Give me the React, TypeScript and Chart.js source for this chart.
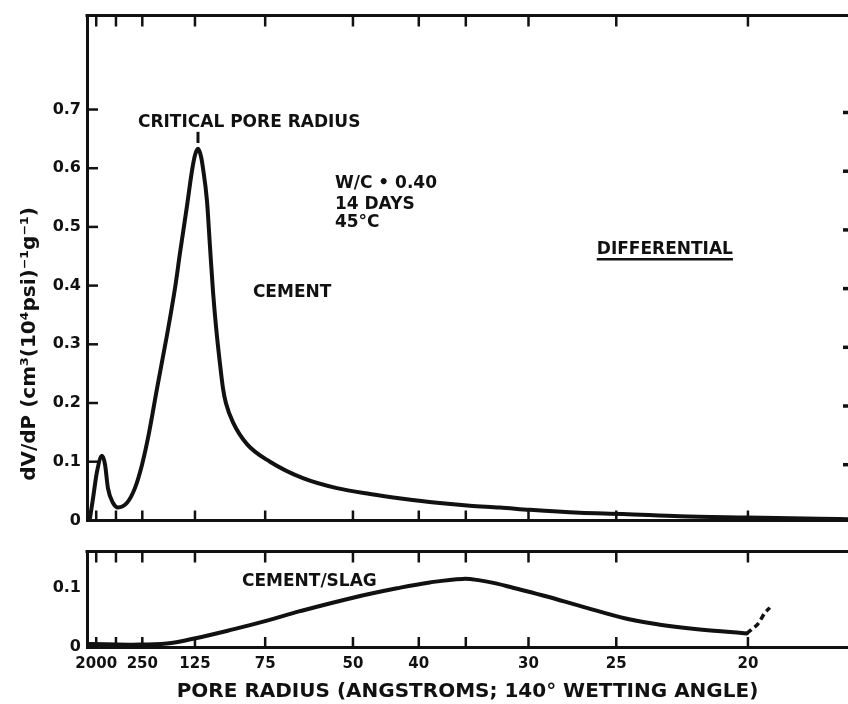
import React, { useEffect, useRef } from "react";
import { Chart, registerables } from "chart.js";

Chart.register(...registerables);

const INK = "#111111";
const FONT = "'DejaVu Sans', 'Liberation Sans', sans-serif";

// Pore radius tick marks (Å). The x axis is linear in 1000 / r (proportional to intrusion pressure).
const tickRadii = [2000, 500, 250, 125, 75, 50, 40, 35, 30, 25, 20];
const tickLabels = ["2000", "", "250", "125", "75", "50", "40", "", "30", "25", "20"];
const xMin = -0.2;
const xMax = 57.6;

// Upper panel: cement (x = 1000 / r, y = dV/dP)
const cementX = [0, 0.26, 0.56, 0.94, 1.17, 1.39, 1.77, 2.15, 2.84, 3.44, 3.98, 4.43, 5.12, 5.87, 6.48, 6.86, 7.39, 7.77, 8.0, 8.23, 8.46, 8.61, 8.91, 9.14, 9.37, 9.6, 9.9, 10.13, 10.35, 10.89, 11.95, 13.7, 16.2, 18.78, 21.29, 23.79, 26.38, 28.88, 31.16, 33.44, 37.23, 40.5, 44.83, 49.91, 55.46, 57.6];
const cementY = [0, 0.038, 0.083, 0.11, 0.095, 0.055, 0.03, 0.022, 0.03, 0.055, 0.095, 0.14, 0.225, 0.315, 0.395, 0.455, 0.535, 0.595, 0.622, 0.633, 0.62, 0.6, 0.545, 0.467, 0.39, 0.33, 0.267, 0.225, 0.2, 0.167, 0.13, 0.1, 0.072, 0.055, 0.045, 0.037, 0.03, 0.025, 0.022, 0.018, 0.013, 0.011, 0.007, 0.005, 0.003, 0.002];

// Lower panel: cement / slag (solid part, then dashed extension)
const slagX = [0, 3.29, 5.87, 7.85, 10.89, 13.47, 15.97, 20.0, 23.34, 25.84, 28.35, 29.64, 30.93, 32.15, 34.73, 37.23, 40.8, 43.31, 45.81, 48.4, 49.91];
const slagY = [0.005, 0.004, 0.006, 0.014, 0.03, 0.045, 0.061, 0.084, 0.1, 0.11, 0.116, 0.1135, 0.108, 0.101, 0.086, 0.07, 0.048, 0.038, 0.031, 0.026, 0.023];
const slagDashX = [49.91, 50.29, 50.75, 51.28, 51.66];
const slagDashY = [0.023, 0.03, 0.039, 0.058, 0.067];

const topYTicks = [0, 0.1, 0.2, 0.3, 0.4, 0.5, 0.6, 0.7];
const topYLabels = ["0", "0.1", "0.2", "0.3", "0.4", "0.5", "0.6", "0.7"];
const topYMax = 0.86;
const bottomYTicks = [0, 0.1];
const bottomYLabels = ["0", "0.1"];
const bottomYMax = 0.1625;

const yTitle = "dV/dP (cm³(10⁴psi)⁻¹g⁻¹)";
const xTitle = "PORE RADIUS (ANGSTROMS; 140° WETTING ANGLE)";

const topNotes = [
  { text: "CRITICAL PORE RADIUS", x: 3.67, y: 0.677, underline: false },
  { text: "W/C • 0.40", x: 18.63, y: 0.573, underline: false },
  { text: "14 DAYS", x: 18.63, y: 0.538, underline: false },
  { text: "45°C", x: 18.63, y: 0.507, underline: false },
  { text: "CEMENT", x: 12.4, y: 0.388, underline: false },
  { text: "DIFFERENTIAL", x: 38.52, y: 0.462, underline: true },
];
const bottomNotes = [{ text: "CEMENT/SLAG", x: 11.57, y: 0.111, underline: false }];

const zip = (xs: number[], ys: number[]) => xs.map((x, i) => ({ x, y: ys[i] }));

type PanelOpts = {
  notes: { text: string; x: number; y: number; underline: boolean }[];
  rightTicks: boolean;
  leftTicks: boolean;
  peakMark: boolean;
  yTitle: boolean;
};

const makeDecor = (o: PanelOpts) => ({
  id: "decor",
  afterDraw(chart: any) {
    const { ctx, chartArea: a, scales } = chart;
    const xs = scales.x;
    const ys = scales.y;
    ctx.save();
    ctx.strokeStyle = INK;
    ctx.fillStyle = INK;
    // top frame line
    ctx.lineWidth = 3;
    ctx.beginPath();
    ctx.moveTo(a.left - 1.5, a.top);
    ctx.lineTo(a.right, a.top);
    ctx.stroke();
    // inward x tick marks on top and bottom frame
    ctx.lineWidth = 2.5;
    xs.ticks.forEach((t: any) => {
      const px = xs.getPixelForValue(t.value);
      ctx.beginPath();
      ctx.moveTo(px, a.top);
      ctx.lineTo(px, a.top + 11);
      ctx.moveTo(px, a.bottom);
      ctx.lineTo(px, a.bottom - 10);
      ctx.stroke();
    });
    // inward y tick marks
    ys.ticks.forEach((t: any) => {
      if (t.value === 0) return;
      const py = ys.getPixelForValue(t.value);
      if (o.leftTicks) {
        ctx.beginPath();
        ctx.moveTo(a.left, py);
        ctx.lineTo(a.left + 11, py);
        ctx.stroke();
      }
      if (o.rightTicks) {
        ctx.lineWidth = 3.5;
        ctx.beginPath();
        ctx.moveTo(a.right - 5, py + 3);
        ctx.lineTo(a.right, py + 3);
        ctx.stroke();
        ctx.lineWidth = 2.5;
      }
    });
    // marker above the critical pore radius peak
    if (o.peakMark) {
      const px = xs.getPixelForValue(8.23);
      ctx.lineWidth = 3;
      ctx.beginPath();
      ctx.moveTo(px, ys.getPixelForValue(0.662));
      ctx.lineTo(px, ys.getPixelForValue(0.643));
      ctx.stroke();
    }
    // text notes
    ctx.font = `bold 17px ${FONT}`;
    ctx.textAlign = "left";
    ctx.textBaseline = "middle";
    o.notes.forEach((n) => {
      const px = xs.getPixelForValue(n.x);
      const py = ys.getPixelForValue(n.y);
      ctx.fillText(n.text, px, py);
      if (n.underline) {
        const w = ctx.measureText(n.text).width;
        ctx.lineWidth = 2.5;
        ctx.beginPath();
        ctx.moveTo(px, py + 10);
        ctx.lineTo(px + w, py + 10);
        ctx.stroke();
      }
    });
    // y axis title, centred on the whole figure
    if (o.yTitle) {
      ctx.save();
      ctx.translate(30, 344);
      ctx.rotate(-Math.PI / 2);
      ctx.textAlign = "center";
      ctx.font = `bold 20px ${FONT}`;
      ctx.fillText(yTitle, 0, 0);
      ctx.restore();
    }
    ctx.restore();
  },
});

const lineStyle = {
  borderColor: INK,
  borderWidth: 4,
  pointRadius: 0,
  fill: false,
  borderCapStyle: "round" as const,
  borderJoinStyle: "round" as const,
};

function buildConfig(panel: "top" | "bottom"): any {
  const isTop = panel === "top";
  const yTicks = isTop ? topYTicks : bottomYTicks;
  const yLabels = isTop ? topYLabels : bottomYLabels;
  const datasets = isTop
    ? [{ ...lineStyle, cubicInterpolationMode: "monotone", data: zip(cementX, cementY) }]
    : [
        { ...lineStyle, tension: 0.4, data: zip(slagX, slagY) },
        { ...lineStyle, tension: 0.3, borderWidth: 3.5, borderCapStyle: "butt", borderDash: [6, 4], data: zip(slagDashX, slagDashY) },
      ];
  return {
    type: "line",
    data: { datasets },
    options: {
      animation: false,
      responsive: false,
      events: [],
      layout: { padding: { top: isTop ? 15 : 7, left: 0, right: 0, bottom: 0 } },
      plugins: { legend: { display: false }, tooltip: { enabled: false } },
      scales: {
        x: {
          type: "linear",
          min: xMin,
          max: xMax,
          afterBuildTicks: (s: any) => {
            s.ticks = tickRadii.map((r) => ({ value: 1000 / r }));
          },
          afterFit: (s: any) => {
            s.height = isTop ? 6 : 57;
          },
          grid: { display: false, drawTicks: false },
          border: { display: true, color: INK, width: 3 },
          ticks: {
            display: !isTop,
            autoSkip: false,
            maxRotation: 0,
            minRotation: 0,
            padding: 8,
            color: INK,
            font: { family: FONT, size: 15, weight: "bold" },
            callback: (_v: any, i: number) => tickLabels[i],
          },
          title: {
            display: !isTop,
            text: xTitle,
            color: INK,
            font: { family: FONT, size: 20, weight: "bold" },
            padding: { top: 0, bottom: 0 },
          },
        },
        y: {
          type: "linear",
          min: 0,
          max: isTop ? topYMax : bottomYMax,
          afterBuildTicks: (s: any) => {
            s.ticks = yTicks.map((v) => ({ value: v }));
          },
          afterFit: (s: any) => {
            s.width = 87;
          },
          grid: { display: false, drawTicks: false },
          border: { display: true, color: INK, width: 3 },
          ticks: {
            padding: 6,
            color: INK,
            font: { family: FONT, size: 16, weight: "bold" },
            callback: (_v: any, i: number) => yLabels[i],
          },
        },
      },
    },
    plugins: [
      makeDecor({
        notes: isTop ? topNotes : bottomNotes,
        rightTicks: isTop,
        leftTicks: isTop,
        peakMark: isTop,
        yTitle: isTop,
      }),
    ],
  };
}

export default function App() {
  const topRef = useRef<HTMLCanvasElement | null>(null);
  const bottomRef = useRef<HTMLCanvasElement | null>(null);

  useEffect(() => {
    const top = new Chart(topRef.current as HTMLCanvasElement, buildConfig("top"));
    const bottom = new Chart(bottomRef.current as HTMLCanvasElement, buildConfig("bottom"));
    return () => {
      top.destroy();
      bottom.destroy();
    };
  }, []);

  return (
    <div style={{ position: "absolute", left: 0, top: 0, width: 848, height: 704, background: "#ffffff", overflow: "hidden" }}>
      <canvas ref={topRef} width={848} height={536} style={{ position: "absolute", left: 0, top: 0, display: "block" }} />
      <canvas ref={bottomRef} width={848} height={168} style={{ position: "absolute", left: 0, top: 536, display: "block" }} />
    </div>
  );
}
